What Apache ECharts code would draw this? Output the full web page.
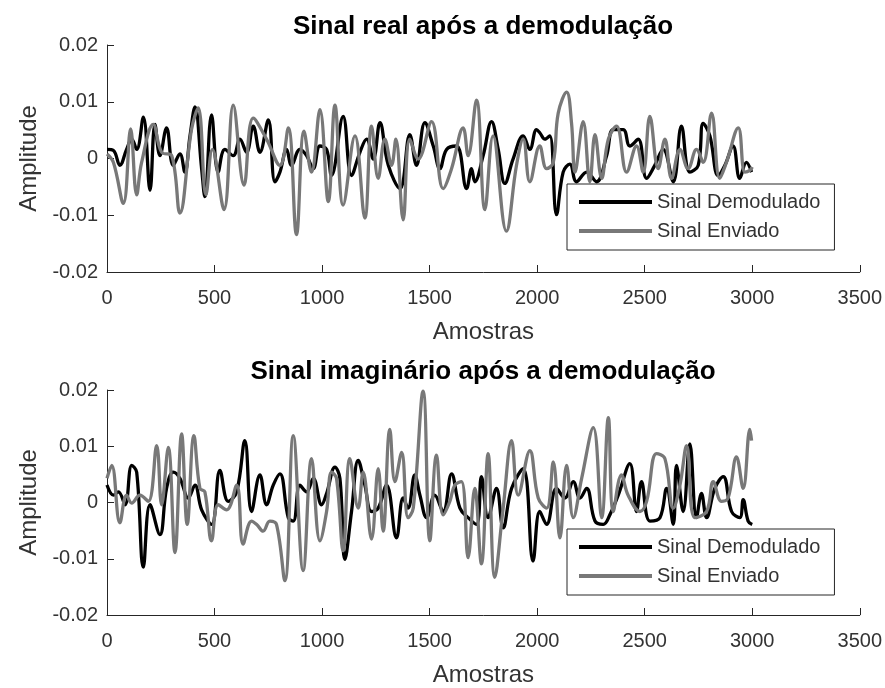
<!DOCTYPE html>
<html>
<head>
<meta charset="utf-8">
<script src="https://cdn.jsdelivr.net/npm/echarts@6/dist/echarts.min.js"></script>
<style>html,body{margin:0;padding:0;background:#fff}#c{width:885px;height:688px}</style>
</head>
<body>
<div id="c"></div>
<script>
var seriesNames = ['Sinal Demodulado', 'Sinal Enviado'];
var titles = ['Sinal real após a demodulação', 'Sinal imaginário após a demodulação'];
var xTickLabels = [0, 500, 1000, 1500, 2000, 2500, 3000, 3500];
var yTickLabels = [-0.02, -0.01, 0, 0.01, 0.02];

// Real part - demodulated (black)
var realDemX = [0,30,60,91,115,138,169,200,223,246,277,308,339,362,386,409,440,455,486,517,548,587,618,649,680,711,750,781,804,835,858,897,928,959,990,1021,1044,1098,1137,1176,1207,1238,1269,1308,1362,1408,1439,1478,1517,1548,1579,1625,1672,1695,1710,1749,1788,1819,1850,1888,1935,1966,1997,2013,2036,2059,2090,2121,2152,2183,2230,2276,2323,2354,2400,2431,2470,2509,2547,2586,2633,2671,2710,2749,2772,2803,2842,2873,2911,2942,2973,2997];
var realDemY = [0.0016,0.0014,-0.0012,0.0016,0.0034,0.0016,0.0073,-0.0056,0.006,0.0005,0.0054,-0.0012,0.0008,-0.0024,0.004,0.0091,-0.0018,-0.0067,0.0077,-0.0024,0.0016,0.0005,0.0034,0.0011,0.0057,0.0011,0.0068,-0.0041,-0.0024,0.0016,-0.0012,0.0016,0.0005,-0.0018,0.0022,0.0016,-0.003,0.0074,-0.003,0.0011,0.0034,-0.0001,0.0063,-0.0012,-0.0053,0.0042,-0.0012,0.0063,0.0022,-0.0018,0.0016,0.0022,-0.0053,-0.0018,-0.0041,0.0005,0.0065,0.0016,-0.0044,-0.0001,0.004,0.0016,0.0051,0.0045,0.0034,0.004,-0.0099,-0.0024,-0.001,-0.0041,-0.0024,-0.0041,0.0005,0.0051,0.0051,0.0022,0.0034,-0.0035,-0.0012,0.0016,-0.0041,0.0057,-0.0024,-0.0012,0.0062,0.004,-0.003,-0.0012,0.0022,-0.0035,-0.0007,-0.0024];

// Real part - sent (gray)
var realEnvX = [0,30,76,110,138,161,215,254,301,339,393,424,460,490,544,587,637,680,742,804,843,881,916,951,990,1029,1060,1098,1153,1199,1230,1261,1292,1323,1343,1377,1408,1447,1509,1563,1602,1656,1679,1718,1757,1795,1857,1904,1935,1966,2012,2044,2075,2098,2137,2160,2176,2214,2245,2269,2300,2331,2369,2416,2462,2493,2524,2563,2594,2625,2664,2702,2741,2772,2811,2849,2880,2935,2966,2989,3000];
var realEnvY = [0.0008,-0.0007,-0.0079,0.0052,-0.0064,-0.0007,0.006,0.0011,0.0005,-0.0096,0.0051,0.0089,-0.0064,0.0016,-0.009,0.0094,-0.0047,0.0071,0.0034,-0.0012,0.0054,-0.0134,0.0048,-0.0024,0.0086,-0.0076,0.0094,-0.0082,0.004,-0.0105,0.0057,-0.0035,0.0034,-0.0012,0.0034,-0.0108,0.0034,-0.0001,0.0065,-0.0053,-0.0018,0.0054,0.0005,0.0103,-0.009,0.004,-0.0128,-0.0012,0.0034,-0.0041,0.0022,-0.0018,-0.0007,0.008,0.0117,0.0062,-0.0024,0.0065,-0.0041,0.0042,-0.0035,0.0034,0.0057,-0.0024,0.0022,-0.0024,0.0074,-0.0018,0.0034,-0.0035,0.0016,-0.0018,0.0016,-0.0007,0.008,-0.0035,-0.0007,0.0054,-0.0024,-0.0021,-0.0015];

// Imaginary part - demodulated (black)
var imagDemX = [0,30,53,84,115,138,169,200,246,277,308,339,378,409,440,486,525,564,603,641,672,711,742,773,804,843,866,897,928,959,998,1021,1060,1083,1106,1137,1168,1199,1230,1261,1300,1346,1377,1400,1431,1455,1486,1524,1563,1602,1641,1679,1718,1741,1772,1811,1842,1881,1935,1981,2012,2044,2090,2129,2168,2199,2230,2269,2307,2338,2377,2431,2462,2485,2524,2571,2602,2633,2648,2679,2710,2741,2764,2788,2826,2865,2904,2942,2958,2981,3000];
var imagDemY = [0.0031,0.0013,0.0019,-0.0004,0.0066,0.0054,-0.0115,-0.0004,-0.0057,0.0025,0.0054,0.0043,0.0008,0.0031,-0.0013,-0.0039,0.0057,0.0002,0.0019,0.011,-0.0016,0.0049,-0.0004,0.0031,0.0051,-0.0027,-0.0033,0.0031,0.0019,0.0043,-0.0004,0.0016,0.0063,0.0043,-0.0101,-0.0016,0.0075,0.0031,-0.0016,-0.001,0.0031,-0.0063,0.0008,-0.001,0.0049,0.0013,-0.0027,0.0013,-0.0016,0.0051,-0.001,-0.0027,-0.0039,0.0046,-0.0027,0.0025,-0.0045,0.0025,0.006,-0.0104,-0.0016,-0.0039,0.0025,0.0008,0.0037,0.0008,0.0025,-0.0033,-0.0039,-0.0022,0.0013,0.0069,-0.0016,0.0037,-0.0033,-0.0027,0.0025,-0.0039,0.0066,-0.0016,0.0104,-0.0027,0.0016,-0.0027,0.0025,0.0046,-0.0016,-0.0027,0.0005,-0.0033,-0.0039];

// Imaginary part - sent (gray)
var imagEnvX = [0,22,60,91,115,153,192,231,254,285,316,347,373,404,432,455,486,517,556,603,633,672,696,726,757,788,827,866,912,951,990,1021,1044,1067,1098,1129,1168,1191,1230,1261,1284,1315,1339,1370,1400,1424,1470,1501,1532,1563,1594,1617,1648,1679,1710,1741,1772,1803,1842,1881,1912,1966,2005,2044,2075,2106,2137,2168,2207,2261,2300,2331,2354,2392,2423,2478,2509,2555,2594,2633,2664,2695,2733,2788,2819,2857,2888,2927,2958,2989,2997];
var imagEnvY = [0.0043,0.0066,-0.0036,0.0013,-0.0001,0.0013,0.0002,0.0101,-0.0004,0.0098,-0.0089,0.0122,-0.0039,0.0119,0.0025,0.0019,-0.0068,-0.0004,-0.0013,0.0031,-0.0074,-0.0033,-0.0039,-0.0051,-0.0033,-0.0039,-0.0139,0.0119,-0.0121,0.0078,-0.0068,-0.0016,0.0054,0.0043,-0.0086,0.0078,-0.001,0.0054,-0.0065,0.006,-0.0051,0.013,0.0037,0.0089,-0.0027,-0.001,0.0198,-0.0068,0.0084,-0.0022,0.0002,0.0031,0.0037,-0.0098,0.0025,-0.0109,0.0087,-0.0133,-0.001,0.011,0.0013,0.0092,0.0008,-0.001,0.0072,-0.0063,0.0066,-0.0027,0.0043,0.0133,-0.0027,0.0151,-0.0016,0.0049,0.0013,-0.0016,0.0002,0.0087,0.0078,-0.001,0.0031,0.0101,-0.0027,-0.0016,0.0037,0.0002,0.0008,0.0081,0.0025,0.013,0.011];

function zip(xs, ys) { var out = []; for (var i = 0; i < xs.length; i++) out.push([xs[i], ys[i]]); return out; }

var FONT = "'Liberation Sans', Arial, Helvetica, sans-serif";
var AXC = '#262626';
var TXC = '#333333';
var BLACK = '#000000';
var GRAY = '#787878';

var grids = [
  { left: 107, top: 45, width: 753, height: 227 },
  { left: 107, top: 390, width: 753, height: 227 }
];

function xAxisFor(i) {
  return {
    type: 'value', gridIndex: i,
    min: xTickLabels[0], max: xTickLabels[xTickLabels.length - 1], interval: 500,
    name: 'Amostras', nameLocation: 'middle', nameGap: 48,
    nameTextStyle: { fontFamily: FONT, fontSize: 24, color: TXC },
    axisLine: { show: true, onZero: false, lineStyle: { color: AXC, width: 1 } },
    axisTick: { show: true, inside: true, length: 7, lineStyle: { color: AXC } },
    axisLabel: { fontFamily: FONT, fontSize: 20, color: TXC, margin: 16,
      formatter: function (v) { return String(Math.round(v)); } },
    splitLine: { show: false }
  };
}
function yAxisFor(i) {
  return {
    type: 'value', gridIndex: i,
    min: yTickLabels[0], max: yTickLabels[yTickLabels.length - 1], interval: 0.01,
    name: 'Amplitude', nameLocation: 'middle', nameGap: 66,
    nameTextStyle: { fontFamily: FONT, fontSize: 24, color: TXC },
    axisLine: { show: true, onZero: false, lineStyle: { color: AXC, width: 1 } },
    axisTick: { show: true, inside: true, length: 7, lineStyle: { color: AXC } },
    axisLabel: {
      fontFamily: FONT, fontSize: 20, color: TXC, margin: 9,
      formatter: function (v) { if (Math.abs(v) < 1e-9) return '0'; return String(Math.round(v * 100) / 100); }
    },
    splitLine: { show: false }
  };
}
function legendFor(top) {
  return {
    left: 567, top: top, orient: 'vertical',
    data: seriesNames,
    icon: 'rect', itemWidth: 73, itemHeight: 4, itemGap: 9,
    padding: [8, 14, 9, 12],
    borderColor: AXC, borderWidth: 1, backgroundColor: '#ffffff',
    textStyle: { fontFamily: FONT, fontSize: 20, color: TXC },
    selectedMode: false
  };
}
function lineSeries(name, xi, data, color) {
  return {
    type: 'line', name: name, xAxisIndex: xi, yAxisIndex: xi,
    data: data, showSymbol: false, symbol: 'none', smooth: 0.4,
    lineStyle: { color: color, width: 3.3 }, itemStyle: { color: color },
    animation: false, silent: true
  };
}

var chart = echarts.init(document.getElementById('c'), null, { renderer: 'canvas' });
chart.setOption({
  backgroundColor: '#ffffff',
  animation: false,
  title: [
    { text: titles[0], left: 483, top: 14, textAlign: 'center', padding: 0,
      textStyle: { fontFamily: FONT, fontSize: 26, fontWeight: 'bold', color: '#000' } },
    { text: titles[1], left: 483, top: 359, textAlign: 'center', padding: 0,
      textStyle: { fontFamily: FONT, fontSize: 26, fontWeight: 'bold', color: '#000' } }
  ],
  legend: [legendFor(184), legendFor(529)],
  grid: grids,
  xAxis: [xAxisFor(0), xAxisFor(1)],
  yAxis: [yAxisFor(0), yAxisFor(1)],
  series: [
    lineSeries(seriesNames[0], 0, zip(realDemX, realDemY), BLACK),
    lineSeries(seriesNames[1], 0, zip(realEnvX, realEnvY), GRAY),
    lineSeries(seriesNames[0], 1, zip(imagDemX, imagDemY), BLACK),
    lineSeries(seriesNames[1], 1, zip(imagEnvX, imagEnvY), GRAY)
  ]
});
</script>
</body>
</html>
